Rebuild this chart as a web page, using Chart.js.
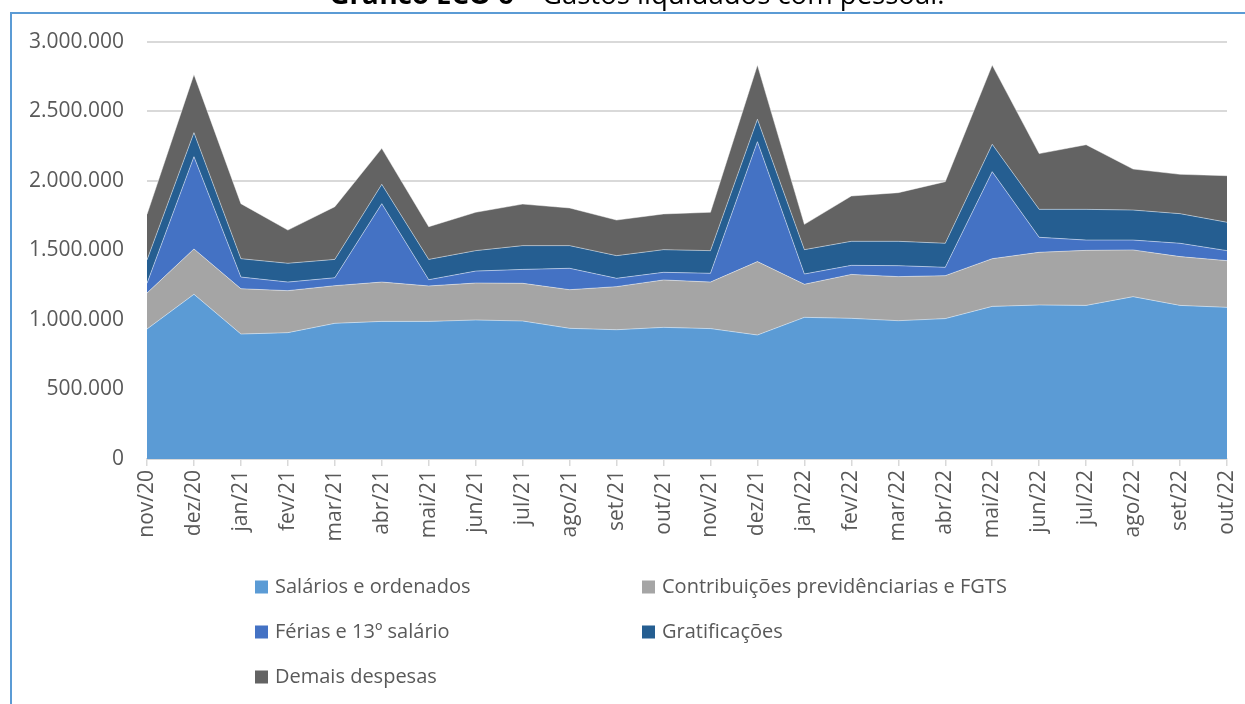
<!DOCTYPE html>
<html>
<head>
<meta charset="utf-8">
<script src="https://cdn.jsdelivr.net/npm/chart.js@4.4.0/dist/chart.umd.min.js"></script>
<style>
  html, body { margin: 0; padding: 0; background: #ffffff; }
  #wrap { position: relative; width: 1245px; height: 704px; overflow: hidden; }
  #frame {
    position: absolute; left: 10px; top: 12px; width: 1250px; height: 710px;
    border-left: 2px solid #5B9BD5; border-top: 2px solid #5B9BD5; box-sizing: border-box;
  }
  canvas { position: absolute; left: 0; top: 0; }
</style>
</head>
<body>
<div id="wrap">
  <div id="frame"></div>
  <canvas id="grafico" width="1245" height="704"></canvas>
</div>
<script>
// Meses do período
const meses = ['nov/20','dez/20','jan/21','fev/21','mar/21','abr/21','mai/21','jun/21',
  'jul/21','ago/21','set/21','out/21','nov/21','dez/21','jan/22','fev/22',
  'mar/22','abr/22','mai/22','jun/22','jul/22','ago/22','set/22','out/22'];

// Gastos liquidados por natureza (R$)
const salarios = [935000,1185000,899000,909000,976000,990000,990000,1000000,
  993000,940000,930000,947000,938000,892000,1019000,1012000,
  995000,1010000,1098000,1108000,1105000,1168000,1105000,1091000];
const contribuicoes = [259000,326000,326000,302000,271000,283000,255000,266000,
  271000,278000,310000,341000,335000,528000,238000,316000,
  317000,309000,343000,379000,396000,336000,351000,336000];
const ferias = [70000,664000,84000,62000,57000,564000,45000,86000,
  100000,154000,60000,55000,63000,863000,74000,65000,
  79000,60000,626000,108000,74000,71000,96000,72000];
const gratificacoes = [168000,173000,132000,135000,132000,139000,146000,147000,
  171000,163000,163000,163000,163000,161000,175000,173000,
  175000,173000,197000,201000,221000,216000,213000,204000];
const demais = [328000,419000,396000,239000,379000,259000,235000,276000,
  299000,271000,256000,257000,276000,390000,182000,326000,
  350000,443000,570000,401000,465000,295000,283000,335000];

// Eixo vertical
const eixoMax = 3000000;
const eixoPasso = 500000;

const series = [
  { nome: 'Salários e ordenados', dados: salarios, cor: '#5B9BD5' },
  { nome: 'Contribuições previdênciarias e FGTS', dados: contribuicoes, cor: '#A5A5A5' },
  { nome: 'Férias e 13º salário', dados: ferias, cor: '#4472C4' },
  { nome: 'Gratificações', dados: gratificacoes, cor: '#255E91' },
  { nome: 'Demais despesas', dados: demais, cor: '#636363' }
];

const FONTE = '"Open Sans", "Noto Sans", sans-serif';
const COR_TEXTO = '#595959';

function milhar(v) {
  return String(Math.round(v)).replace(/\B(?=(\d{3})+(?!\d))/g, '.');
}

// Título (parte superior, cortado pela borda da página)
const tituloPlugin = {
  id: 'titulo',
  afterDraw(chart) {
    const ctx = chart.ctx;
    const negrito = 'Gráfico ECO 6';
    const normal = ' – Gastos liquidados com pessoal.';
    const familia = '"Liberation Sans Narrow", "Open Sans", sans-serif';
    const larguraAlvo = 615;
    let tam = 24;
    ctx.save();
    ctx.font = `bold ${tam}px ${familia}`;
    let w1 = ctx.measureText(negrito).width;
    ctx.font = `${tam}px ${familia}`;
    let w2 = ctx.measureText(normal).width;
    tam = tam * larguraAlvo / (w1 + w2);
    ctx.font = `bold ${tam}px ${familia}`;
    w1 = ctx.measureText(negrito).width;
    ctx.font = `${tam}px ${familia}`;
    w2 = ctx.measureText(normal).width;
    const x0 = 637 - (w1 + w2) / 2;
    ctx.fillStyle = '#000000';
    ctx.textBaseline = 'alphabetic';
    ctx.textAlign = 'left';
    ctx.font = `bold ${tam}px ${familia}`;
    ctx.fillText(negrito, x0, 4);
    ctx.font = `${tam}px ${familia}`;
    ctx.fillText(normal, x0 + w1, 4);
    ctx.restore();
  }
};

// Legenda em duas colunas
const legendaPlugin = {
  id: 'legendaGrade',
  afterDraw(chart) {
    const ctx = chart.ctx;
    const colunas = [255, 642];
    const linhas = [587, 632, 677];
    ctx.save();
    ctx.font = `20px ${FONTE}`;
    ctx.textBaseline = 'middle';
    ctx.textAlign = 'left';
    chart.data.datasets.forEach((ds, i) => {
      const x = colunas[i % 2];
      const y = linhas[Math.floor(i / 2)];
      ctx.fillStyle = ds.backgroundColor;
      ctx.fillRect(x, y - 6.5, 13, 13);
      ctx.fillStyle = COR_TEXTO;
      ctx.fillText(ds.label, x + 20, y);
    });
    ctx.restore();
  }
};

new Chart(document.getElementById('grafico'), {
  type: 'line',
  data: {
    labels: meses,
    datasets: series.map((s, i) => ({
      label: s.nome,
      data: s.dados,
      backgroundColor: s.cor,
      borderColor: 'rgba(255,255,255,0.45)',
      borderWidth: 1,
      pointRadius: 0,
      pointHoverRadius: 0,
      tension: 0,
      fill: i === 0 ? 'origin' : '-1'
    }))
  },
  options: {
    responsive: false,
    animation: false,
    devicePixelRatio: 1,
    layout: { padding: { top: 42, right: 18, left: 0, bottom: 0 } },
    plugins: {
      legend: { display: false },
      title: { display: false },
      tooltip: { enabled: false }
    },
    scales: {
      x: {
        offset: false,
        grid: {
          display: true,
          drawOnChartArea: false,
          drawTicks: true,
          tickLength: 7,
          color: '#D9D9D9',
          lineWidth: 1.5
        },
        border: { display: true, color: '#D9D9D9', width: 1.5 },
        ticks: {
          autoSkip: false,
          minRotation: 90,
          maxRotation: 90,
          padding: 4,
          color: COR_TEXTO,
          font: { family: FONTE, size: 21 }
        },
        afterFit(scale) {
          scale.height = 245;
          scale.paddingLeft = 0;
          scale.paddingRight = 0;
        }
      },
      y: {
        stacked: true,
        min: 0,
        max: eixoMax,
        grid: {
          color: '#D9D9D9',
          lineWidth: 2,
          drawTicks: false
        },
        border: { display: false },
        ticks: {
          stepSize: eixoPasso,
          padding: 23,
          color: COR_TEXTO,
          font: { family: FONTE, size: 21 },
          callback: (v) => milhar(v)
        },
        afterFit(scale) {
          scale.width = 147;
          scale.paddingTop = 0;
          scale.paddingBottom = 0;
        }
      }
    }
  },
  plugins: [tituloPlugin, legendaPlugin]
});
</script>
</body>
</html>
